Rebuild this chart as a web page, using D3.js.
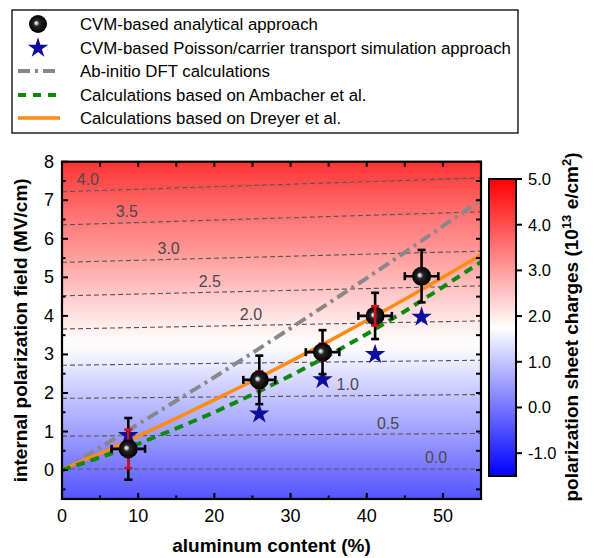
<!DOCTYPE html>
<html><head><meta charset="utf-8">
<script src="https://cdn.jsdelivr.net/npm/d3@7"></script>
<style>
html,body{margin:0;padding:0;background:#fff;}
svg{display:block;font-family:"Liberation Sans",Arial,sans-serif;}
</style></head>
<body><svg id="chart" width="595" height="558"></svg>
<script>
// ---------- data ----------
const alContent = [8.7, 25.9, 34.2, 41.1, 47.2];
const fieldAnalytical = [0.55, 2.34, 3.06, 4.0, 5.03];
const errYBlack = [0.8, 0.63, 0.57, 0.6, 0.68];
const errYRed = [0.5, 0.22, 0.22, 0.25, 0.19];
const errX = [2.2, 2.1, 2.2, 2.2, 2.2];
const redOnTop = [false, false, false, true, false];
const fieldSimulation = [0.9, 1.46, 2.35, 3.0, 3.97];

const curveX = [0, 5, 10, 15, 20, 25, 30, 35, 40, 45, 50, 55];
const dftField = [0, 0.59, 1.19, 1.80, 2.41, 3.04, 3.68, 4.33, 4.98, 5.65, 6.33, 7.01];
const ambacherField = [0, 0.33, 0.68, 1.08, 1.50, 1.96, 2.45, 2.97, 3.53, 4.12, 4.75, 5.40];
const dreyerField = [0.02, 0.43, 0.88, 1.34, 1.82, 2.31, 2.82, 3.34, 3.88, 4.43, 5.0, 5.58];

const contourLevels = [0.0, 0.5, 1.0, 1.5, 2.0, 2.5, 3.0, 3.5, 4.0];
const contourLeft = [0.03, 0.88, 1.86, 2.72, 3.66, 4.52, 5.39, 6.36, 7.22];
const contourRight = [0.03, 0.95, 1.96, 2.85, 3.87, 4.78, 5.68, 6.70, 7.58];
const labelLevels = [4.0, 3.5, 3.0, 2.5, 2.0, 1.0, 0.5, 0.0];
const labelX = [3.4, 8.5, 14.0, 19.4, 24.8, 37.5, 42.8, 49.1];

const xTicks = [0, 10, 20, 30, 40, 50];
const xMinor = [5, 15, 25, 35, 45, 55];
const yTicks = [0, 1, 2, 3, 4, 5, 6, 7, 8];
const yMinor = [-0.5, 0.5, 1.5, 2.5, 3.5, 4.5, 5.5, 6.5, 7.5];
const cbTicks = [-1, 0, 1, 2, 3, 4, 5];
const cbDomain = [-1.5, 5];

const legendLabels = [
  "CVM-based analytical approach",
  "CVM-based Poisson/carrier transport simulation approach",
  "Ab-initio DFT calculations",
  "Calculations based on Ambacher et al.",
  "Calculations based on Dreyer et al."
];

// ---------- layout ----------
const svg = d3.select("#chart");
const L = 62, R = 481, T = 161.7, B = 499;
const x = d3.scaleLinear([0, 55], [L, R]);
const y = d3.scaleLinear([-0.75, 8], [B, T]);
const cbX0 = 489, cbX1 = 516;
const cy = d3.scaleLinear(cbDomain, [476, 179]);
const color = d3.scaleLinear([-1.5, 1.75, 5], ["#0000ff", "#ffffff", "#ff0000"]);

const defs = svg.append("defs");
const mid = contourLevels.map((d, i) => (contourLeft[i] + contourRight[i]) / 2);
const f2c = d3.scaleLinear(mid, contourLevels);
const bg = defs.append("linearGradient").attr("id", "bg")
  .attr("gradientUnits", "userSpaceOnUse")
  .attr("x1", 0).attr("x2", 0).attr("y1", y(8)).attr("y2", y(-0.75));
d3.range(0, 41).forEach(i => {
  const f = 8 - i * 8.75 / 40;
  bg.append("stop").attr("offset", i / 40).attr("stop-color", color(f2c(f)));
});
const cbg = defs.append("linearGradient").attr("id", "cbg")
  .attr("x1", 0).attr("x2", 0).attr("y1", 0).attr("y2", 1);
cbg.append("stop").attr("offset", 0).attr("stop-color", color(5));
cbg.append("stop").attr("offset", (5 - 1.75) / 6.5).attr("stop-color", color(1.75));
cbg.append("stop").attr("offset", 1).attr("stop-color", color(-1.5));
const sph = defs.append("radialGradient").attr("id", "sphere")
  .attr("cx", "50%").attr("cy", "50%").attr("r", "50%").attr("fx", "38%").attr("fy", "44%");
sph.append("stop").attr("offset", 0).attr("stop-color", "#ffffff");
sph.append("stop").attr("offset", 0.14).attr("stop-color", "#c8c8c8");
sph.append("stop").attr("offset", 0.34).attr("stop-color", "#262626");
sph.append("stop").attr("offset", 1).attr("stop-color", "#000000");
defs.append("clipPath").attr("id", "clip").append("rect")
  .attr("x", L).attr("y", T).attr("width", R - L).attr("height", B - T);

svg.append("rect").attr("x", L).attr("y", T).attr("width", R - L).attr("height", B - T)
  .attr("fill", "url(#bg)");

const plot = svg.append("g").attr("clip-path", "url(#clip)");

plot.selectAll(".contour").data(contourLevels).join("line")
  .attr("x1", x(0)).attr("x2", x(55))
  .attr("y1", (d, i) => y(contourLeft[i])).attr("y2", (d, i) => y(contourRight[i]))
  .attr("stroke", "#555").attr("stroke-width", 1.1).attr("stroke-dasharray", "5,3");
plot.selectAll(".clab").data(labelLevels).join("text")
  .attr("x", (d, i) => x(labelX[i]))
  .attr("y", (d, i) => {
    const k = contourLevels.indexOf(d);
    const f = contourLeft[k] + (contourRight[k] - contourLeft[k]) * labelX[i] / 55;
    return y(f) - 11;
  })
  .attr("text-anchor", "middle").attr("dominant-baseline", "central")
  .attr("font-size", 16).attr("fill", "#4a4a4a").text(d => d.toFixed(1));

const line = d3.line().x(d => x(d[0])).y(d => y(d[1]));
plot.append("path").datum(curveX.map((v, i) => [v, dftField[i]])).attr("d", line)
  .attr("fill", "none").attr("stroke", "#888").attr("stroke-width", 4).attr("stroke-dasharray", "12,5,3,5");
plot.append("path").datum(curveX.map((v, i) => [v, dreyerField[i]])).attr("d", line)
  .attr("fill", "none").attr("stroke", "#ff8a14").attr("stroke-width", 3.5);
plot.append("path").datum(curveX.map((v, i) => [v, ambacherField[i]])).attr("d", line)
  .attr("fill", "none").attr("stroke", "#0b8a0b").attr("stroke-width", 4).attr("stroke-dasharray", "9,6");

const star = d3.symbol(d3.symbolStar, 130);
plot.selectAll(".star").data(alContent).join("path")
  .attr("d", star).attr("transform", (d, i) => `translate(${x(d)},${y(fieldSimulation[i])})`)
  .attr("fill", "#0d0d9e");

function vbar(g, xi, lo, hi, col, cap) {
  g.append("line").attr("x1", x(xi)).attr("x2", x(xi)).attr("y1", y(lo)).attr("y2", y(hi))
    .attr("stroke", col).attr("stroke-width", 2.6);
  [lo, hi].forEach(v => g.append("line").attr("x1", x(xi) - cap).attr("x2", x(xi) + cap)
    .attr("y1", y(v)).attr("y2", y(v)).attr("stroke", col).attr("stroke-width", 2.6));
}
function hbar(g, yi, lo, hi, col, cap) {
  g.append("line").attr("x1", x(lo)).attr("x2", x(hi)).attr("y1", y(yi)).attr("y2", y(yi))
    .attr("stroke", col).attr("stroke-width", 2.6);
  [lo, hi].forEach(v => g.append("line").attr("x1", x(v)).attr("x2", x(v))
    .attr("y1", y(yi) - cap).attr("y2", y(yi) + cap).attr("stroke", col).attr("stroke-width", 2.6));
}
const eb = svg.append("g");
alContent.forEach((xv, i) => {
  const f = fieldAnalytical[i];
  vbar(eb, xv, f - errYBlack[i], f + errYBlack[i], "#000", 4);
  hbar(eb, f, xv - errX[i], xv + errX[i], "#000", 4);
  if (!redOnTop[i]) vbar(eb, xv, f - errYRed[i], f + errYRed[i], "#d0101a", 4);
});
svg.append("g").selectAll("circle").data(alContent).join("circle")
  .attr("cx", d => x(d)).attr("cy", (d, i) => y(fieldAnalytical[i])).attr("r", 9.5)
  .attr("fill", "url(#sphere)");
const eb2 = svg.append("g");
alContent.forEach((xv, i) => {
  const f = fieldAnalytical[i];
  if (redOnTop[i]) vbar(eb2, xv, f - errYRed[i], f + errYRed[i], "#d0101a", 4);
});

const ax = svg.append("g").attr("stroke", "#000").attr("stroke-width", 2);
ax.selectAll(".xt").data(xTicks).join("line").attr("x1", d => x(d)).attr("x2", d => x(d)).attr("y1", B).attr("y2", B - 6);
ax.selectAll(".xm").data(xMinor).join("line").attr("x1", d => x(d)).attr("x2", d => x(d)).attr("y1", B).attr("y2", B - 3.5);
ax.selectAll(".xtt").data(xTicks.concat(xMinor)).join("line").attr("x1", d => x(d)).attr("x2", d => x(d)).attr("y1", T).attr("y2", T + 5);
ax.selectAll(".yt").data(yTicks).join("line").attr("y1", d => y(d)).attr("y2", d => y(d)).attr("x1", L).attr("x2", L + 6);
ax.selectAll(".ym").data(yMinor).join("line").attr("y1", d => y(d)).attr("y2", d => y(d)).attr("x1", L).attr("x2", L + 3.5);
ax.selectAll(".yr").data(yTicks.concat(yMinor)).join("line").attr("y1", d => y(d)).attr("y2", d => y(d)).attr("x1", R).attr("x2", R - 5);
svg.append("rect").attr("x", L).attr("y", T).attr("width", R - L).attr("height", B - T)
  .attr("fill", "none").attr("stroke", "#000").attr("stroke-width", 2.2);

svg.selectAll(".xl").data(xTicks).join("text").attr("x", d => x(d)).attr("y", 522)
  .attr("text-anchor", "middle").attr("font-size", 18).text(d => d);
svg.selectAll(".yl").data(yTicks).join("text").attr("x", 54).attr("y", d => y(d))
  .attr("text-anchor", "end").attr("dominant-baseline", "central").attr("font-size", 18).text(d => d);

svg.append("text").attr("x", (L + R) / 2).attr("y", 552).attr("text-anchor", "middle")
  .attr("font-size", 19).attr("font-weight", "bold").text("aluminum content (%)");
svg.append("text").attr("transform", `translate(27,${(T + B) / 2}) rotate(-90)`).attr("text-anchor", "middle")
  .attr("font-size", 19).attr("font-weight", "bold").text("internal polarization field (MV/cm)");

svg.append("rect").attr("x", cbX0).attr("y", cy(5)).attr("width", cbX1 - cbX0).attr("height", cy(-1.5) - cy(5))
  .attr("fill", "url(#cbg)").attr("stroke", "#000").attr("stroke-width", 2);
svg.selectAll(".cbt").data(cbTicks).join("line").attr("x1", cbX1).attr("x2", cbX1 + 6)
  .attr("y1", d => cy(d)).attr("y2", d => cy(d)).attr("stroke", "#000").attr("stroke-width", 2);
svg.selectAll(".cbl").data(cbTicks).join("text").attr("x", 528).attr("y", d => cy(d))
  .attr("dominant-baseline", "central").attr("font-size", 16.5).text(d => d.toFixed(1));
const cbt = svg.append("text").attr("transform", `translate(578,327) rotate(-90)`).attr("text-anchor", "middle")
  .attr("font-size", 19).attr("font-weight", "bold");
cbt.append("tspan").text("polarization sheet charges (10");
cbt.append("tspan").attr("dy", -7).attr("font-size", 13).text("13");
cbt.append("tspan").attr("dy", 7).text(" e/cm");
cbt.append("tspan").attr("dy", -7).attr("font-size", 13).text("2");
cbt.append("tspan").attr("dy", 7).text(")");

svg.append("rect").attr("x", 12).attr("y", 10).attr("width", 506).attr("height", 123)
  .attr("fill", "#fff").attr("stroke", "#000").attr("stroke-width", 1.3);
const rowY = [24, 48, 71, 95, 118];
svg.selectAll(".lt").data(legendLabels).join("text").attr("x", 80).attr("y", (d, i) => rowY[i])
  .attr("dominant-baseline", "central").attr("font-size", 16.8).text(d => d);
svg.append("circle").attr("cx", 38).attr("cy", rowY[0]).attr("r", 9).attr("fill", "url(#sphere)");
svg.append("path").attr("d", star).attr("transform", `translate(38,${rowY[1]})`).attr("fill", "#0d0d9e");
svg.append("line").attr("x1", 18).attr("x2", 56).attr("y1", rowY[2]).attr("y2", rowY[2])
  .attr("stroke", "#888").attr("stroke-width", 4).attr("stroke-dasharray", "12,5,3,5");
svg.append("line").attr("x1", 18).attr("x2", 56).attr("y1", rowY[3]).attr("y2", rowY[3])
  .attr("stroke", "#0b8a0b").attr("stroke-width", 4).attr("stroke-dasharray", "8,7");
svg.append("line").attr("x1", 18).attr("x2", 60).attr("y1", rowY[4]).attr("y2", rowY[4])
  .attr("stroke", "#ff8a14").attr("stroke-width", 3.5);
</script></body></html>
